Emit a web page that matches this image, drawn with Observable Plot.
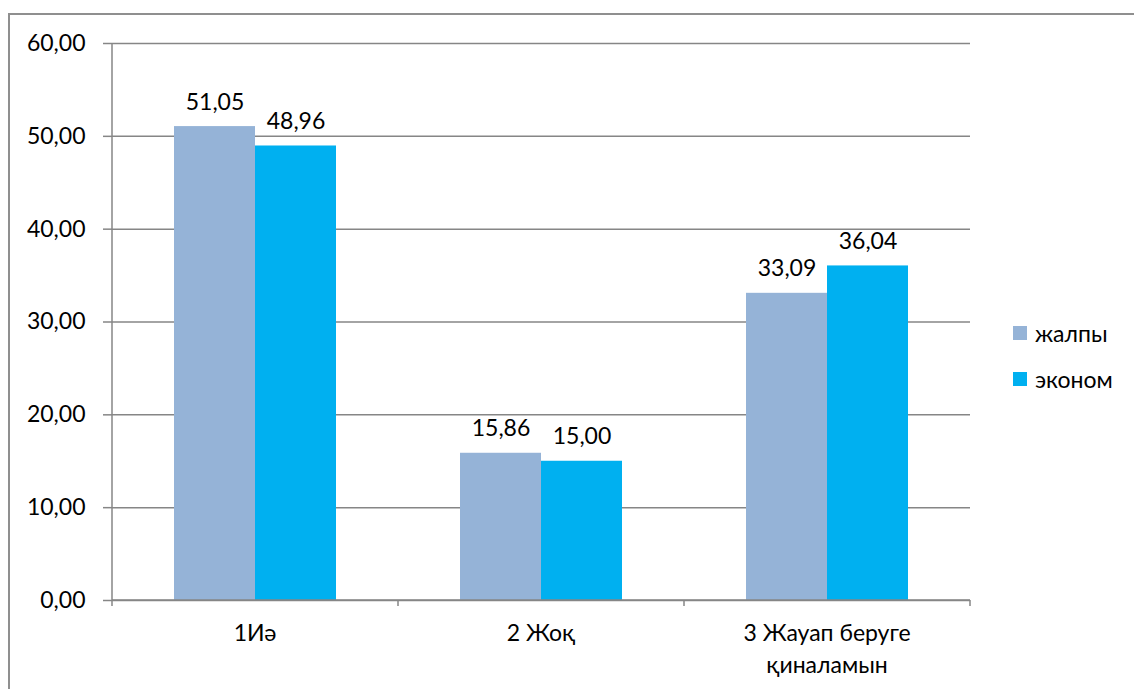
<!DOCTYPE html>
<html>
<head>
<meta charset="utf-8">
<script src="https://cdn.jsdelivr.net/npm/d3@7"></script>
<script src="https://cdn.jsdelivr.net/npm/@observablehq/plot@0.6"></script>
<style>
  html, body { margin: 0; padding: 0; background: #fff; }
  #wrap { position: relative; width: 1134px; height: 689px; overflow: hidden; font-family: Lato, "Open Sans", sans-serif; }
  #border { position: absolute; left: 8px; top: 13px; right: -10px; bottom: -10px; border-top: 2px solid #8f8f8f; border-left: 2px solid #8f8f8f; }
  #chart { position: absolute; left: 0; top: 0; }
  #legend { position: absolute; left: 1013px; top: 321px; font-size: 23px; color: #000; }
  .item { display: flex; align-items: center; height: 24px; margin-bottom: 22px; }
  .sw { width: 14px; height: 14px; margin-right: 8px; }
</style>
</head>
<body>
<div id="wrap">
  <div id="border"></div>
  <div id="chart"></div>
  <div id="legend"></div>
</div>
<script>
const categories = ["1Иә", "2 Жоқ", "3 Жауап беруге\nқиналамын"];
const seriesNames = ["жалпы", "эконом"];
const seriesColors = ["#95B3D7", "#00B0F0"];
const valuesZhalpy = [51.05, 15.86, 33.09];
const valuesEkonom = [48.96, 15.00, 36.04];
const yTicks = [0, 10, 20, 30, 40, 50, 60];

const data = [];
categories.forEach((c, i) => {
  data.push({category: c, series: seriesNames[0], value: valuesZhalpy[i]});
  data.push({category: c, series: seriesNames[1], value: valuesEkonom[i]});
});

const fmt = v => d3.format(".2f")(v).replace(".", ",");
const FONT = "Lato, 'Open Sans', sans-serif";
const FS = 23;
const grey = "#868686";

const chart = Plot.plot({
  width: 1134,
  height: 689,
  marginLeft: 112,
  marginRight: 164,
  marginTop: 43,
  marginBottom: 89,
  style: {fontFamily: FONT, fontSize: FS + "px", color: "#000", background: "transparent", overflow: "visible"},
  fx: {domain: categories, paddingInner: 0, paddingOuter: 0, label: null, axis: null},
  x: {domain: seriesNames, paddingInner: 0, paddingOuter: 0.744, axis: null},
  y: {domain: [0, 60], axis: null},
  color: {domain: seriesNames, range: seriesColors},
  marks: [
    Plot.gridY(yTicks, {stroke: grey, strokeOpacity: 1, strokeWidth: 1.5}),
    Plot.barY(data, {fx: "category", x: "series", y: "value", fill: "series"}),
    Plot.text(data, {fx: "category", x: "series", y: "value", text: d => fmt(d.value), lineAnchor: "bottom", dy: -17, fontSize: FS, fill: "#000"}),
    Plot.axisY(yTicks, {tickFormat: fmt, tickSize: 9, tickPadding: 18, stroke: grey, strokeWidth: 1.5, fontSize: FS, fill: "#000", label: null})
  ]
});
document.getElementById("chart").appendChild(chart);

// axis lines & category ticks drawn from Plot's own scales
const fx = chart.scale("fx");
const y = chart.scale("y");
const svg = d3.select(chart);
const g = svg.append("g");
const x0 = fx.range[0], step = fx.step;
const yb = y.apply(0), yt = y.apply(60);
g.append("line").attr("x1", x0).attr("x2", x0).attr("y1", yt).attr("y2", yb)
  .attr("stroke", grey).attr("stroke-width", 1.5);
g.append("line").attr("x1", x0).attr("x2", x0 + step * categories.length).attr("y1", yb).attr("y2", yb)
  .attr("stroke", grey).attr("stroke-width", 1.5);
for (let i = 0; i <= categories.length; i++) {
  g.append("line").attr("x1", x0 + i * step).attr("x2", x0 + i * step).attr("y1", yb).attr("y2", yb + 6)
    .attr("stroke", grey).attr("stroke-width", 1.5);
}
categories.forEach((c, i) => {
  const t = g.append("text").attr("x", x0 + (i + 0.5) * step).attr("y", yb + 41)
    .attr("text-anchor", "middle").attr("font-family", FONT).attr("font-size", FS).attr("fill", "#000");
  c.split("\n").forEach((line, j) => {
    t.append("tspan").attr("x", x0 + (i + 0.5) * step).attr("dy", j === 0 ? 0 : 32).text(line);
  });
});

// legend
const legend = document.getElementById("legend");
seriesNames.forEach((s, i) => {
  const item = document.createElement("div");
  item.className = "item";
  item.innerHTML = `<div class="sw" style="background:${seriesColors[i]}"></div><span>${s}</span>`;
  legend.appendChild(item);
});
</script>
</body>
</html>
